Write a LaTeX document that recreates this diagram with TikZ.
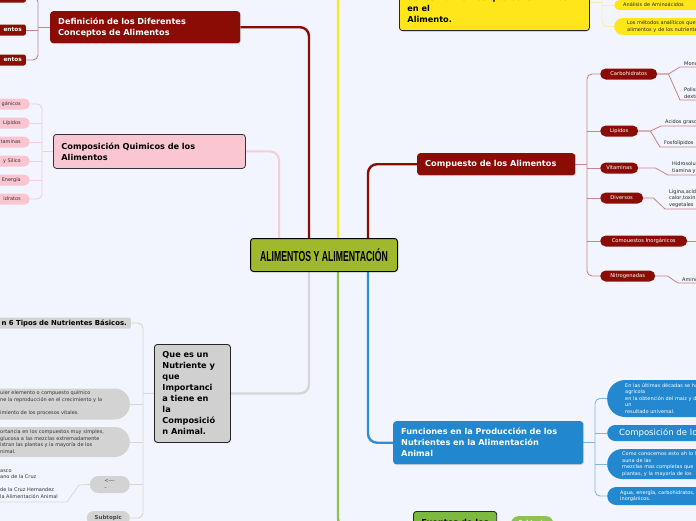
\documentclass[tikz,border=0pt]{standalone}
\usepackage{fontspec}
\setmainfont{DejaVu Sans}
\setsansfont{DejaVu Sans}
\newfontfamily\condfont[FakeStretch=0.6]{Liberation Sans}
\usetikzlibrary{shadows}
\pgfdeclarelayer{bgl}
\pgfsetlayers{bgl,main}
\definecolor{bgc}{HTML}{F2F5FD}
\definecolor{dred}{HTML}{8A0C05}
\definecolor{lredc}{HTML}{C98287}
\definecolor{pinkf}{HTML}{F9C6D1}
\definecolor{pinkp}{HTML}{FAC5D0}
\definecolor{pinkc}{HTML}{F8CCD6}
\definecolor{yel}{HTML}{FFE61A}
\definecolor{yelc}{HTML}{FBEDA5}
\definecolor{grayf}{HTML}{D0D0D0}
\definecolor{grayp}{HTML}{D3D3D3}
\definecolor{grayc}{HTML}{D6D6D6}
\definecolor{olive}{HTML}{A0B92C}
\definecolor{greenf}{HTML}{7CB940}
\definecolor{greenp}{HTML}{8DC451}
\definecolor{greenc}{HTML}{8DC451}
\definecolor{bluef}{HTML}{2187CF}
\definecolor{bluep}{HTML}{2388D0}
\definecolor{bluec}{HTML}{2F8FD6}
\definecolor{bluel}{HTML}{7DB8E5}
\begin{document}
\begin{tikzpicture}[x=1pt,y=-1pt,
  conn/.style={line width=2.4pt, rounded corners=9pt},
  lsub/.style={line width=0.9pt, rounded corners=5pt},
  big/.style={anchor=north west, rounded corners=3pt, align=left, inner xsep=8pt, inner ysep=0pt, font=\bfseries\fontsize{8.2}{11}\selectfont},
  sh/.style={drop shadow={shadow xshift=0.8pt, shadow yshift=-0.8pt, opacity=0.3}},
  rpill/.style={anchor=west, fill=dred, text=white, rounded corners=5.5pt, minimum height=11pt, inner sep=0pt, font=\fontsize{5.2}{6}\selectfont},
  leaf/.style={anchor=south west, inner xsep=4pt, inner ysep=1.5pt, align=left, text=black!85, font=\fontsize{5}{6.3}\selectfont},
  dsm/.style={anchor=east, fill=dred, text=white, rounded corners=2pt, minimum height=11pt, inner ysep=0pt, inner xsep=4pt, text width=40pt, align=right, font=\bfseries\fontsize{5.8}{6}\selectfont},
  ppill/.style={anchor=east, fill=pinkp, text=black!80, rounded corners=5.5pt, minimum height=11pt, inner ysep=0pt, inner xsep=9pt, text width=45pt, align=right, font=\fontsize{5}{6}\selectfont},
  ypill/.style={anchor=west, fill=yel, text=black!85, inner ysep=0pt, align=left, text width=110pt, font=\fontsize{5}{6.3}\selectfont},
  bpill/.style={anchor=west, fill=bluep, text=white, inner ysep=0pt, align=left, text width=150pt, font=\fontsize{5}{6.5}\selectfont},
  gtext/.style={anchor=north west, inner sep=0pt, align=left, text=black!80, font=\fontsize{5}{6.6}\selectfont}]
\useasboundingbox (0,0) rectangle (696,520);

% root
\node[anchor=north west, draw=black, line width=1pt, fill=olive, rounded corners=3pt, minimum width=147pt, minimum height=33pt, inner sep=0pt, font=\condfont\bfseries\fontsize{14.5}{14}\selectfont] (root) at (250,238) {ALIMENTOS Y ALIMENTACIÓN};
\coordinate (rP) at (279,238);
\coordinate (rR1) at (309,238);
\coordinate (rY) at (338,238);
\coordinate (rR2) at (368,238);
\coordinate (rG) at (309,271);
\coordinate (rGr) at (338,271);
\coordinate (rB) at (368,271);
\coordinate (yend) at (399,-8);
\coordinate (cD) at (38,0);
\coordinate (cP) at (42,0);
\coordinate (cY) at (602,0);
\coordinate (cYt) at (602,-10);
\coordinate (cC) at (587,0);
\coordinate (cN) at (143,0);
\coordinate (cB) at (595,0);
\coordinate (c5e) at (698,241);
\coordinate (u0) at (-2,502);

% Definicion
\node[big, sh, fill=dred, text=white, minimum width=190pt, minimum height=32pt, text width=174pt] (def) at (50,11) {Definición de los Diferentes\\Conceptos de Alimentos};
\node[dsm] (d1) at (26,-3) {entos};
\node[dsm] (d2) at (26,30) {entos};
\node[dsm] (d3) at (26,60) {entos};

% Composicion
\node[big, fill=pinkf, draw=black!80, line width=0.8pt, text=black, minimum width=192pt, minimum height=34pt, text width=176pt] (comp) at (53,134) {Composición Quimicos de los\\Alimentos};
\node[ppill] (p1) at (30,104) {gánicos};
\node[ppill] (p2) at (30,123) {Lípidos};
\node[ppill] (p3) at (30,142) {taminas};
\node[ppill] (p4) at (30,161) {y Silico};
\node[ppill] (p5) at (30,180) {Energía};
\node[ppill] (p6) at (30,199) {idratos};

% Yellow
\node[anchor=south west, fill=yel, draw=black!85, line width=0.8pt, rounded corners=3pt, sh, align=left, text width=174pt, inner xsep=8pt, inner ysep=8pt, font=\bfseries\fontsize{8.2}{11}\selectfont] (ynode) at (399,31) {Análisis Químico\\de los Nutrientes que Consumimos\\en el\\Alimento.};
\node[ypill, inner xsep=9pt, minimum height=10pt, rounded corners=5pt] (y1) at (614,5) {Análisis de Aminoácidos};
\node[ypill, inner xsep=13pt, minimum height=17pt, rounded corners=8.5pt] (y2) at (614,26.5) {Los métodos analíticos que determinan\\alimentos y de los nutrientes};

% Compuesto
\node[big, sh, fill=dred, text=white, minimum width=158pt, minimum height=22pt, text width=142pt] (cmp) at (417,153) {Compuesto de los Alimentos};
\node[rpill, minimum width=57pt] (c1) at (600,74) {Carbohidratos};
\node[rpill, minimum width=38pt] (c2) at (600,131) {Lipidos};
\node[rpill, minimum width=38pt] (c3) at (600,168) {Vitaminas};
\node[rpill, minimum width=43pt] (c4) at (600,198) {Diversos};
\node[rpill, minimum width=87pt] (c5) at (600,241) {Comouestos Inorgánicos};
\node[rpill, minimum width=55pt] (c6) at (600,276) {Nitrogenadas};
\node[leaf] (l1) at (680,67) {Monosacáridos};
\node[leaf] (l2) at (680,100) {Polisacáridos\\dextrinas};
\node[leaf] (l3) at (661,126) {Acidos grasos};
\node[leaf] (l4) at (660,147) {Fosfolípidos};
\node[leaf] (l5) at (668,175) {Hidrosolubles\\tiamina y riboflavina};
\node[leaf] (l6) at (665,209) {Ligina,acidos\\calor,toxinas\\vegetales};
\node[leaf] (l7) at (678,283) {Aminoácidos};

% Gray
\node[big, fill=grayf, draw=black!85, line width=0.9pt, text=black, minimum width=76pt, minimum height=98pt, text width=60pt] (nut) at (154,344) {Que es un\\Nutriente y\\que\\Importanci\\a tiene en\\la\\Composició\\n Animal.};
\node[anchor=east, fill=grayp, rounded corners=1.5pt, minimum height=11pt, inner xsep=4pt, inner ysep=0pt, text width=135pt, align=right, font=\bfseries\fontsize{6.9}{7}\selectfont] (g0) at (131,323) {n 6 Tipos de Nutrientes Básicos.};
\node[anchor=east, fill=grayp, rounded corners=15pt, minimum width=200pt, minimum height=31pt] (g1) at (130,404) {};
\node[gtext] (t1) at (0,390.5) {uier elemento o compuesto químico\\ne la reproducción en el crecimiento y la\\[6.6pt]imiento de los procesos vitales.};
\node[anchor=east, fill=grayp, rounded corners=15pt, minimum width=200pt, minimum height=30pt] (g2) at (130,442) {};
\node[gtext] (t2) at (0,429.5) {ortancia en los compuestos muy simples,\\glucosa a las mezclas extremadamente\\istran las plantas y la mayoría de los\\nimal.};
\node[anchor=east, fill=grayp, rounded corners=8.5pt, minimum width=40pt, minimum height=17pt, inner sep=0pt, align=left, text=black!75, font=\fontsize{5}{6.3}\selectfont] (g3) at (130,484.5) {<----\\--};
\node[gtext] (t3) at (0,469) {asco\\ano de la Cruz\\[6.6pt]de la Cruz Hernandez\\la Alimentación Animal};
\node[anchor=east, fill=grayp, rounded corners=7pt, minimum width=43pt, minimum height=14pt, inner sep=0pt, text=black!70, font=\bfseries\fontsize{5.5}{6}\selectfont] (g4) at (130,518) {Subtopic};

% Blue
\node[big, sh, fill=bluef, text=white, minimum width=190pt, minimum height=43pt, text width=174pt] (fun) at (393,421) {Funciones en la Producción de los\\Nutrientes en la Alimentación\\Animal};
\node[bpill, inner xsep=18pt, minimum height=37pt, rounded corners=18pt] (b1) at (607,398.5) {En las últimas décadas se ha producido\\agricola\\en la obtención del maiz y de la soja\\un\\resultado universal.};
\node[bpill, inner xsep=12pt, minimum height=16pt, rounded corners=8pt, font=\fontsize{8.5}{9}\selectfont] (b2) at (607,433) {Composición de los Nutrientes};
\node[bpill, inner xsep=15pt, minimum height=30pt, rounded corners=15pt] (b3) at (607,464) {Como conocemos esto ah lo largo de\\auna de las\\mezclas mas completas que\\plantas, y la mayoría de los};
\node[bpill, inner xsep=13pt, minimum height=18pt, rounded corners=9pt] (b4) at (607,496) {Agua, energía, carbohidratos,\\inorgánicos.};

% Green
\node[anchor=north west, fill=greenf, draw=black!85, line width=0.9pt, rounded corners=3pt, minimum width=74pt, minimum height=32pt, inner xsep=8pt, align=left, font=\bfseries\fontsize{8.2}{11}\selectfont] (gn) at (413,511) {Fuentes de los\\Nutrientes};
\node[anchor=north west, fill=greenp, rounded corners=7pt, minimum width=42pt, minimum height=14pt, inner sep=0pt, text=white, font=\bfseries\fontsize{5.5}{6}\selectfont] (gp) at (511,516) {Subtopic};

\begin{pgfonlayer}{bgl}
\fill[bgc] (-5,-5) rectangle (701,525);
% main connectors
\draw[conn, pinkc, line width=2pt] (comp.east) -- (comp.east -| rP) -- (rP);
\draw[conn, dred] (def.east) -- (def.east -| rR1) -- (rR1);
\draw[conn, yel] (rY) -- (rY |- yend) -- (yend);
\draw[conn, dred] (rR2) -- (rR2 |- cmp.west) -- (cmp.west);
\draw[conn, grayc] (rG) -- (rG |- nut.east) -- (nut.east);
\draw[conn, greenc] (rGr) -- (rGr |- gn.west) -- (gn.west);
\draw[conn, bluec] (rB) -- (rB |- fun.west) -- (fun.west);
% definicion children
\draw[lsub, lredc] (def.west) -- (def.west -| cD);
\draw[lsub, lredc] (d1.east) -- (d1.east -| cD) -- (d3.east -| cD) -- (d3.east);
\draw[lsub, lredc] (d2.east) -- (d2.east -| cD);
% pink children
\draw[lsub, pinkc] (comp.west) -- (comp.west -| cP);
\draw[lsub, pinkc] (p1.east) -- (p1.east -| cP) -- (p6.east -| cP) -- (p6.east);
\draw[lsub, pinkc] (p2.east) -- (p2.east -| cP);
\draw[lsub, pinkc] (p3.east) -- (p3.east -| cP);
\draw[lsub, pinkc] (p4.east) -- (p4.east -| cP);
\draw[lsub, pinkc] (p5.east) -- (p5.east -| cP);
% yellow children
\draw[lsub, yelc] (ynode.east) -- (ynode.east -| cY);
\draw[lsub, yelc] (cYt) -- (y2.west -| cY) -- (y2.west);
\draw[lsub, yelc] (y1.west) -- (y1.west -| cY);
% compuesto children
\draw[lsub, lredc] (cmp.east) -- (cmp.east -| cC);
\draw[lsub, lredc] (c1.west) -- (c1.west -| cC) -- (c6.west -| cC) -- (c6.west);
\draw[lsub, lredc] (c2.west) -- (c2.west -| cC);
\draw[lsub, lredc] (c3.west) -- (c3.west -| cC);
\draw[lsub, lredc] (c4.west) -- (c4.west -| cC);
\draw[lsub, lredc] (c5.west) -- (c5.west -| cC);
\draw[lredc, line width=0.8pt] (c1.east) -- ++(11,0) -- (l1.south west) -- (l1.south east);
\draw[lredc, line width=0.8pt] (c1.east) -- ++(11,0) -- (l2.south west) -- (l2.south east);
\draw[lredc, line width=0.8pt] (c2.east) -- ++(12,0) -- (l3.south west) -- (l3.south east);
\draw[lredc, line width=0.8pt] (c2.east) -- ++(12,0) -- (l4.south west) -- (l4.south east);
\draw[lredc, line width=0.8pt] (c3.east) -- ++(17,0) -- (l5.south west) -- (l5.south east);
\draw[lredc, line width=0.8pt] (c4.east) -- ++(10,0) -- (l6.south west) -- (l6.south east);
\draw[lredc, line width=0.8pt] (c5.east) -- (c5e);
\draw[lredc, line width=0.8pt] (c6.east) -- ++(12,0) -- (l7.south west) -- (l7.south east);
% gray children
\draw[lsub, grayc] (nut.west) -- (nut.west -| cN);
\draw[lsub, grayc] (g0.east) -- (g0.east -| cN) -- (g4.east -| cN) -- (g4.east);
\draw[lsub, grayc] (g1.east) -- (g1.east -| cN);
\draw[lsub, grayc] (g2.east) -- (g2.east -| cN);
\draw[lsub, grayc] (g3.east) -- (g3.east -| cN);
\draw[grayc, line width=0.8pt] (u0) -- (67,502) -- (79,485) -- (g3.west);
% blue children
\draw[lsub, bluel] (fun.east) -- (fun.east -| cB);
\draw[lsub, bluel] (b1.west) -- (b1.west -| cB) -- (b4.west -| cB) -- (b4.west);
\draw[lsub, bluel] (b2.west) -- (b2.west -| cB);
\draw[lsub, bluel] (b3.west) -- (b3.west -| cB);
\end{pgfonlayer}
\end{tikzpicture}
\end{document}
